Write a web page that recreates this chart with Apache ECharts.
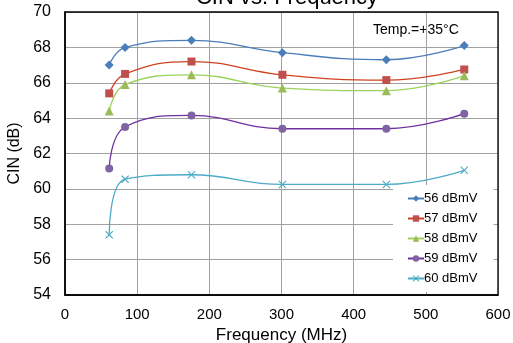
<!DOCTYPE html>
<html>
<head>
<meta charset="utf-8">
<title>CIN vs. Frequency</title>
<script src="https://cdn.jsdelivr.net/npm/echarts@6/dist/echarts.min.js"></script>
<style>
  html, body { margin: 0; padding: 0; background: #fff; }
  .chart { width: 513px; height: 343px; }
</style>
</head>
<body>
<div class="chart"></div>
<script>
// 数据
var freqs = [61.25, 83.25, 175.25, 301.25, 445.25, 553.25];
var seriesNames = ["56 dBmV", "57 dBmV", "58 dBmV", "59 dBmV", "60 dBmV"];
var cin56 = [67.0, 68.0, 68.4, 67.7, 67.3, 68.1];
var cin57 = [65.4, 66.5, 67.2, 66.45, 66.15, 66.75];
var cin58 = [64.4, 65.9, 66.45, 65.7, 65.55, 66.4];
var cin59 = [61.15, 63.5, 64.15, 63.4, 63.4, 64.25];
var cin60 = [57.4, 60.55, 60.8, 60.25, 60.25, 61.05];
var yTicks = [54, 56, 58, 60, 62, 64, 66, 68, 70];
var xTicks = [0, 100, 200, 300, 400, 500, 600];

(function () {
  var myChart = echarts.init(document.querySelector(".chart"));
  var font = "Liberation Sans, Arial, sans-serif";
  // 叉形标记
  var xMark = "path://M0,1L1,0L5,4L9,0L10,1L6,5L10,9L9,10L5,6L1,10L0,9L4,5Z";

  function pairs(vals) {
    return freqs.map(function (f, i) { return [f, vals[i]]; });
  }

  function line(name, vals, lineColor, markColor, symbol, size) {
    return {
      name: name,
      type: "line",
      data: pairs(vals),
      smooth: 0.45,
      symbol: symbol,
      symbolSize: size,
      lineStyle: { color: lineColor, width: 1.3 },
      itemStyle: { color: markColor },
    };
  }

  var option = {
    animation: false,
    textStyle: { fontFamily: font },
    title: {
      text: "CIN vs. Frequency",
      left: 282,
      textAlign: "center",
      top: -18,
      textStyle: { fontSize: 22, fontWeight: "normal", color: "#000", fontFamily: font },
    },
    // 固定绘图区, 不让标签挤压
    grid: { left: 65, right: 15, top: 12, bottom: 48, outerBoundsMode: "none" },
    xAxis: {
      type: "value",
      min: xTicks[0],
      max: xTicks[xTicks.length - 1],
      interval: 100,
      name: "Frequency (MHz)",
      nameLocation: "middle",
      nameGap: 29,
      nameTextStyle: { fontSize: 17, color: "#000" },
      axisLine: { lineStyle: { color: "#000", width: 1.5 } },
      axisTick: { show: false },
      axisLabel: { fontSize: 15, color: "#000", margin: 12 },
      splitLine: { lineStyle: { color: "#a0a0a0", width: 1 } },
    },
    yAxis: {
      type: "value",
      min: yTicks[0],
      max: yTicks[yTicks.length - 1],
      interval: 2,
      name: "CIN (dB)",
      nameLocation: "middle",
      nameGap: 41,
      nameTextStyle: { fontSize: 16, color: "#000" },
      axisLine: { show: true, lineStyle: { color: "#000", width: 1.5 } },
      axisTick: { show: false },
      axisLabel: { fontSize: 16, color: "#000", margin: 14 },
      splitLine: { lineStyle: { color: "#a0a0a0", width: 1 } },
    },
    legend: {
      orient: "vertical",
      left: 393,
      top: 185,
      backgroundColor: "#fff",
      padding: [7, 16, 7, 14],
      itemGap: 7,
      itemWidth: 16,
      itemHeight: 8,
      textStyle: { fontSize: 13, color: "#000", padding: [0, 0, 0, -5] },
      data: seriesNames,
    },
    graphic: [
      // 图框(画在图例上面)
      {
        type: "rect",
        shape: { x: 65, y: 12, width: 433, height: 283 },
        style: { fill: "none", stroke: "#000", lineWidth: 1.3 },
        silent: true,
        z: 100,
      },
      {
        type: "text",
        left: 373,
        top: 23,
        style: { text: "Temp.=+35°C", font: "14px " + font, fill: "#000" },
      },
    ],
    series: [
      line(seriesNames[0], cin56, "#4a7ebb", "#4a7ebb", "diamond", 9),
      line(seriesNames[1], cin57, "#d0421f", "#c0504d", "rect", 8),
      line(seriesNames[2], cin58, "#9bd35a", "#9bbb59", "triangle", 9),
      line(seriesNames[3], cin59, "#7030a0", "#8064a2", "circle", 8),
      line(seriesNames[4], cin60, "#4bacc6", "#4bacc6", xMark, 8),
    ],
  };
  myChart.setOption(option);
})();
</script>
</body>
</html>
